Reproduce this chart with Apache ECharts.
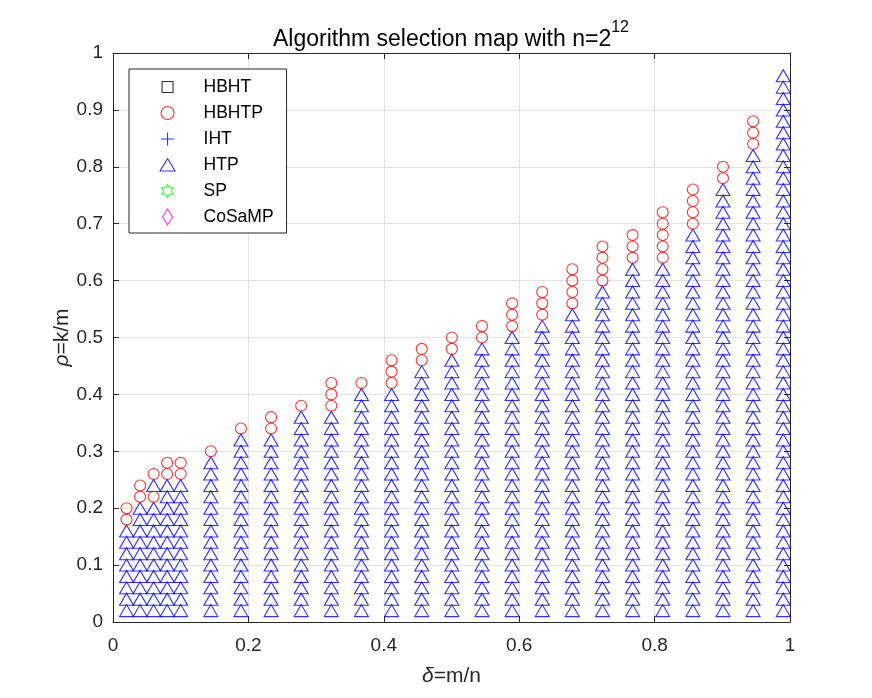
<!DOCTYPE html>
<html>
<head>
<meta charset="utf-8">
<script src="https://cdn.jsdelivr.net/npm/echarts@6/dist/echarts.min.js"></script>
<style>
html,body{margin:0;padding:0;background:#fff;}
#chart{width:872px;height:698px;}
</style>
</head>
<body>
<div id="chart"></div>
<script>
// sampled delta = m/n columns
const deltaVals = [0.02, 0.04, 0.06, 0.08, 0.10, 0.1445, 0.189, 0.2335, 0.278, 0.3225, 0.367, 0.4115, 0.456, 0.5005, 0.545, 0.5895, 0.634, 0.6785, 0.723, 0.7675, 0.812, 0.8565, 0.901, 0.9455, 0.99];
// rho = k/m sampling grid
const rhoGrid = [0.02, 0.04, 0.06, 0.08, 0.10, 0.12, 0.14, 0.16, 0.18, 0.20, 0.22, 0.24, 0.26, 0.28, 0.30, 0.32, 0.34, 0.36, 0.38, 0.40, 0.42, 0.44, 0.46, 0.48, 0.50, 0.52, 0.54, 0.56, 0.58, 0.60, 0.62, 0.64, 0.66, 0.68, 0.70, 0.72, 0.74, 0.76, 0.78, 0.80, 0.82, 0.84, 0.86, 0.88, 0.90, 0.92, 0.94, 0.96, 0.98];
// highest rho at which HTP (triangle) is selected, per column
const htpTop = [0.16, 0.20, 0.24, 0.24, 0.24, 0.28, 0.32, 0.32, 0.36, 0.36, 0.40, 0.40, 0.44, 0.46, 0.48, 0.50, 0.52, 0.54, 0.58, 0.62, 0.62, 0.68, 0.76, 0.82, 0.96];
// rho values where HBHTP (circle) is selected, per column
const hbhtpRho = [
  [0.18, 0.20], [0.22, 0.24], [0.22, 0.26], [0.26, 0.28], [0.26, 0.28],
  [0.30], [0.34], [0.34, 0.36], [0.38], [0.38, 0.40, 0.42],
  [0.42], [0.42, 0.44, 0.46], [0.46, 0.48], [0.48, 0.50], [0.50, 0.52],
  [0.52, 0.54, 0.56], [0.54, 0.56, 0.58], [0.56, 0.58, 0.60, 0.62], [0.60, 0.62, 0.64, 0.66], [0.64, 0.66, 0.68],
  [0.64, 0.66, 0.68, 0.70, 0.72], [0.70, 0.72, 0.74, 0.76], [0.78, 0.80], [0.84, 0.86, 0.88], []
];
const legendNames = ['HBHT', 'HBHTP', 'IHT', 'HTP', 'SP', 'CoSaMP'];

const near = (a, b) => Math.abs(a - b) < 1e-9;
const htpData = [];
const hbhtpData = [];
deltaVals.forEach((d, i) => {
  rhoGrid.forEach(r => {
    if (r <= htpTop[i] + 1e-9 && !hbhtpRho[i].some(h => near(h, r))) htpData.push([d, r]);
  });
  hbhtpRho[i].forEach(r => hbhtpData.push([d, r]));
});

const FONT = 'Liberation Sans, Arial, Helvetica, sans-serif';
const AX = '#262626';

const icons = {
  HBHT: 'path://M0,0M16,16M2.5,2.5L13.5,2.5L13.5,13.5L2.5,13.5Z',
  HBHTP: 'path://M0,0M16,16M14.5,8A6.5,6.5,0,1,1,1.5,8A6.5,6.5,0,1,1,14.5,8Z',
  IHT: 'path://M0,0M16,16M1.5,8L14.5,8M8,1.5L8,14.5',
  HTP: 'path://M0,0M16,16M8,1.5L15.5,14L0.5,14Z',
  SP: 'path://M0,0M16,16M8,1.5L9.875,4.75L13.63,4.75L11.75,8L13.63,11.25L9.875,11.25L8,14.5L6.125,11.25L2.37,11.25L4.25,8L2.37,4.75L6.125,4.75Z',
  CoSaMP: 'path://M0,0M16,16M8,0L13,8L8,16L3,8Z'
};
const colors = {HBHT: '#000000', HBHTP: '#ff0000', IHT: '#0000ff', HTP: '#0000ff', SP: '#00ff00', CoSaMP: '#ff00ff'};

const chart = echarts.init(document.getElementById('chart'), null, {renderer: 'canvas'});

function emptySeries(name) {
  return {
    name, type: 'scatter', data: [], symbol: 'circle', symbolSize: 10,
    itemStyle: {color: 'transparent', borderColor: colors[name], borderWidth: 1}
  };
}

const option = {
  animation: false,
  backgroundColor: '#ffffff',
  title: {
    text: '{a|Algorithm selection map with n=2}{s|12}',
    left: 451, textAlign: 'center', top: 20, padding: 0,
    textStyle: {
      fontWeight: 'normal',
      rich: {
        a: {fontFamily: FONT, fontSize: 23, fontWeight: 'normal', color: '#000', lineHeight: 31, verticalAlign: 'bottom'},
        s: {fontFamily: FONT, fontSize: 16, fontWeight: 'normal', color: '#000', lineHeight: 16, verticalAlign: 'top'}
      }
    }
  },
  grid: {left: 113, right: 82, top: 53, bottom: 76, containLabel: false},
  legend: {
    orient: 'vertical', left: 129, top: 69,
    padding: [9, 13, 7, 30],
    itemWidth: 62, itemHeight: 16, itemGap: 8,
    backgroundColor: '#fff', borderColor: AX, borderWidth: 1,
    selectedMode: false,
    textStyle: {fontFamily: FONT, fontSize: 17.5, color: '#000', lineHeight: 16},
    data: legendNames.map(n => ({
      name: n, icon: icons[n],
      itemStyle: {color: 'transparent', borderColor: colors[n], borderWidth: 1.1}
    }))
  },
  xAxis: [{
    type: 'value', position: 'bottom', min: 0, max: 1, interval: 0.2,
    name: '{i|δ}=m/n', nameLocation: 'middle', nameGap: 44, nameMoveOverlap: false,
    nameTextStyle: {fontFamily: FONT, fontSize: 21, color: AX,
      rich: {i: {fontFamily: FONT, fontSize: 21, color: AX, fontStyle: 'italic'}}},
    axisLine: {show: true, onZero: false, lineStyle: {color: AX, width: 1}},
    axisTick: {show: true, inside: true, length: 6, lineStyle: {color: AX}},
    axisLabel: {fontFamily: FONT, fontSize: 19, color: AX, margin: 14},
    splitLine: {show: true, lineStyle: {color: '#e3e3e3', width: 1}}
  }, {
    type: 'value', position: 'top', min: 0, max: 1, interval: 0.2,
    axisLine: {show: true, onZero: false, lineStyle: {color: AX, width: 1}},
    axisTick: {show: true, inside: true, length: 6, lineStyle: {color: AX}},
    axisLabel: {show: false}, splitLine: {show: false}
  }],
  yAxis: [{
    type: 'value', position: 'left', min: 0, max: 1, interval: 0.1,
    name: '{i|ρ}=k/m', nameLocation: 'middle', nameGap: 40, nameMoveOverlap: false,
    nameTextStyle: {fontFamily: FONT, fontSize: 21, color: AX,
      rich: {i: {fontFamily: FONT, fontSize: 21, color: AX, fontStyle: 'italic'}}},
    axisLine: {show: true, onZero: false, lineStyle: {color: AX, width: 1}},
    axisTick: {show: true, inside: true, length: 6, lineStyle: {color: AX}},
    axisLabel: {fontFamily: FONT, fontSize: 19, color: AX, margin: 10},
    splitLine: {show: true, lineStyle: {color: '#e3e3e3', width: 1}}
  }, {
    type: 'value', position: 'right', min: 0, max: 1, interval: 0.1,
    axisLine: {show: true, onZero: false, lineStyle: {color: AX, width: 1}},
    axisTick: {show: true, inside: true, length: 6, lineStyle: {color: AX}},
    axisLabel: {show: false}, splitLine: {show: false}
  }],
  series: [
    emptySeries('HBHT'),
    {
      name: 'HBHTP', type: 'scatter', data: hbhtpData, symbol: 'circle', symbolSize: 11,
      itemStyle: {color: 'transparent', borderColor: '#ff0000', borderWidth: 1.1},
      emphasis: {disabled: true}, z: 3
    },
    emptySeries('IHT'),
    {
      name: 'HTP', type: 'scatter', data: htpData, symbol: 'triangle', symbolSize: [14, 12],
      itemStyle: {color: 'transparent', borderColor: '#0000ff', borderWidth: 1.1},
      emphasis: {disabled: true}, z: 2
    },
    emptySeries('SP'),
    emptySeries('CoSaMP')
  ]
};
chart.setOption(option);
</script>
</body>
</html>
